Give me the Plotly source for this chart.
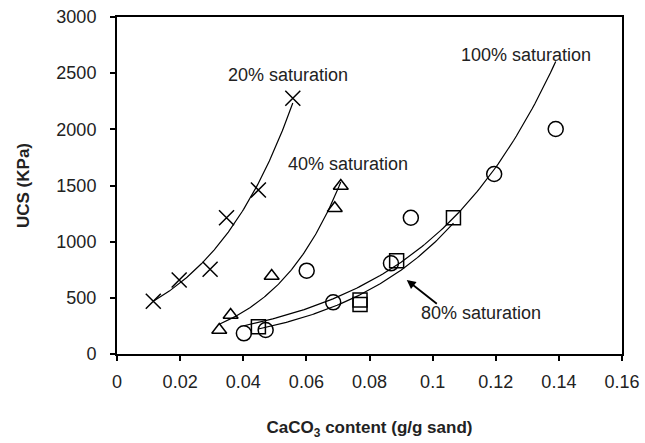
import numpy as np
import plotly.graph_objects as go

# ---- data ----
x20 = [0.0115, 0.0197, 0.0295, 0.0347, 0.0448, 0.0557]
y20 = [470, 658, 754, 1213, 1460, 2276]

x40 = [0.0324, 0.0360, 0.0490, 0.0690, 0.0709]
y40 = [214, 347, 694, 1297, 1495]

x80 = [0.0448, 0.0770, 0.0770, 0.0886, 0.1066]
y80 = [243, 480, 440, 831, 1213]

x100 = [0.0402, 0.0471, 0.0601, 0.0685, 0.0868, 0.0931, 0.1195, 0.1390]
y100 = [184, 214, 742, 460, 807, 1213, 1602, 2003]

xticks = [0, 0.02, 0.04, 0.06, 0.08, 0.1, 0.12, 0.14, 0.16]
xticklabels = ["0", "0.02", "0.04", "0.06", "0.08", "0.1", "0.12", "0.14", "0.16"]
yticks = [0, 500, 1000, 1500, 2000, 2500, 3000]

labels = ["20% saturation", "40% saturation", "80% saturation", "100% saturation"]
label_x = [0.0542, 0.0732, 0.1153, 0.1296]
label_y = [2484, 1691, 365, 2662]

FONT = "Liberation Sans, Arial, sans-serif"


def exp_trend(xs, ys, n=120):
    b, ln_a = np.polyfit(np.array(xs), np.log(np.array(ys)), 1)
    xx = np.linspace(min(xs), max(xs), n)
    return xx, np.exp(ln_a + b * xx)


fig = go.Figure()

series = [
    (x20, y20, "x-thin-open", 15),
    (x40, y40, "triangle-up-open", 13),
    (x80, y80, "square-open", 14),
    (x100, y100, "circle-open", 15),
]

for xs, ys, sym, sz in series:
    tx, ty = exp_trend(xs, ys)
    fig.add_trace(go.Scatter(x=tx, y=ty, mode="lines",
                             line=dict(color="black", width=1.2),
                             hoverinfo="skip", showlegend=False))

for xs, ys, sym, sz in series:
    fig.add_trace(go.Scatter(x=xs, y=ys, mode="markers",
                             marker=dict(symbol=sym, size=sz, color="black",
                                         line=dict(color="black", width=1.5)),
                             showlegend=False))

for i, t in enumerate(labels):
    fig.add_annotation(x=label_x[i], y=label_y[i], text=t, showarrow=False,
                       font=dict(family=FONT, size=18, color="#222"))

# arrow for 80% saturation
fig.add_annotation(x=0.0918, y=659, ax=0.1018, ay=436, axref="x", ayref="y",
                   xref="x", yref="y", text="", showarrow=True,
                   arrowhead=2, arrowsize=1, arrowwidth=1.8, arrowcolor="black")

fig.update_layout(
    width=645, height=443,
    margin=dict(l=117, r=23, t=17, b=89),
    paper_bgcolor="white", plot_bgcolor="white",
    font=dict(family=FONT, size=18, color="#222"),
    xaxis=dict(range=[0, 0.16], tickvals=xticks, ticktext=xticklabels,
               showgrid=False, zeroline=False, automargin=False,
               showline=True, linecolor="black", linewidth=2, mirror=True,
               ticks="outside", ticklen=5, tickwidth=1.5, tickcolor="black",
               ticklabelstandoff=5,
               title=dict(text="<b>CaCO<sub>3</sub> content (g/g sand)</b>",
                          font=dict(size=17, family=FONT), standoff=31)),
    yaxis=dict(range=[0, 3000], tickvals=yticks,
               showgrid=False, zeroline=False, automargin=False,
               showline=True, linecolor="black", linewidth=2, mirror=True,
               ticks="outside", ticklen=5, tickwidth=1.5, tickcolor="black",
               ticklabelstandoff=10,
               title=dict(text="<b>UCS (KPa)</b>", font=dict(size=17, family=FONT),
                          standoff=22)),
)

# remove the browser's default 8px body margin so the figure sits at the page origin
fig.write_html("out.html",
               config={"displayModeBar": False},
               post_script="document.body.style.margin='0';document.body.style.overflow='hidden';")
